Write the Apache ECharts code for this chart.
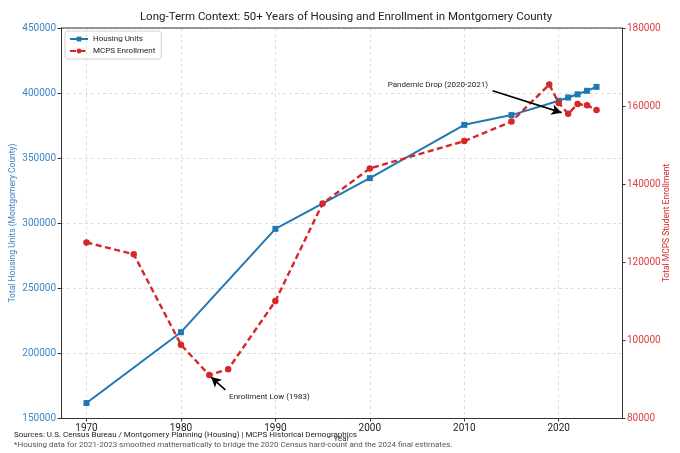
<!DOCTYPE html>
<html>
<head>
<meta charset="utf-8">
<script src="https://cdn.jsdelivr.net/npm/echarts@6/dist/echarts.min.js"></script>
<style>
  html, body { margin: 0; padding: 0; background: #fff; }
  #chart { width: 680px; height: 453px; }
</style>
</head>
<body>
<div id="chart"></div>
<script>
// data
const housingYears = [1970, 1980, 1990, 2000, 2010, 2015, 2020, 2021, 2022, 2023, 2024];
const housingUnits = [161500, 216000, 295500, 334500, 375500, 383000, 394000, 396500, 399000, 401700, 404700];
const enrollYears = [1970, 1975, 1980, 1983, 1985, 1990, 1995, 2000, 2010, 2015, 2019, 2020, 2021, 2022, 2023, 2024];
const enrollment = [125000, 122000, 98800, 91000, 92500, 110000, 135000, 144000, 151000, 156000, 165500, 160800, 158000, 160500, 160200, 159000];
const xTicks = [1970, 1980, 1990, 2000, 2010, 2020];

const BLUE = '#1f77b4';
const RED = '#d62728';
const FONT = 'Roboto';
const plain = v => String(v);

const chart = echarts.init(document.getElementById('chart'));

const option = {
    animation: false,
    textStyle: { fontFamily: FONT },
    title: {
        text: 'Long-Term Context: 50+ Years of Housing and Enrollment in Montgomery County',
        left: 341, top: 6, textAlign: 'center',
        textStyle: { fontSize: 11.5, fontWeight: 'normal', color: '#222', fontFamily: FONT }
    },
    legend: {
        left: 65, top: 31, orient: 'vertical',
        itemWidth: 18, itemHeight: 6, itemGap: 4,
        padding: [4, 6, 4, 4],
        borderColor: '#d0d0d0', borderWidth: 1, borderRadius: 3,
        textStyle: { fontSize: 8, color: '#222' },
        data: ['Housing Units', 'MCPS Enrollment']
    },
    grid: { left: 61, right: 58, top: 28, bottom: 35, outerBoundsMode: 'none', containLabel: false },
    xAxis: {
        type: 'value', min: 1967.3, max: 2026.7,
        name: 'Year', nameLocation: 'middle', nameGap: 17, nameMoveOverlap: false,
        nameTextStyle: { fontSize: 8, color: '#333' },
        axisLine: { onZero: false, lineStyle: { color: '#333', width: 1 } },
        axisTick: { show: true, length: 3.5, customValues: xTicks, lineStyle: { color: '#333' } },
        axisLabel: { customValues: xTicks, fontSize: 10, color: '#222', margin: 5, formatter: plain },
        splitLine: { show: true, customValues: xTicks, lineStyle: { color: '#dddddd', type: [3, 3] } }
    },
    yAxis: [
        {
            type: 'value', min: 150000, max: 450000, interval: 50000, position: 'left',
            name: 'Total Housing Units (Montgomery County)', nameLocation: 'middle', nameGap: 44,
            nameMoveOverlap: false,
            nameTextStyle: { fontSize: 8.5, color: '#3a83c4' },
            axisLine: { show: true, lineStyle: { color: '#333' } },
            axisTick: { show: true, length: 3.5, lineStyle: { color: '#333' } },
            axisLabel: { fontSize: 10, color: '#3d87c7', margin: 5, formatter: plain },
            splitLine: { show: true, lineStyle: { color: '#dddddd', type: [3, 3] } }
        },
        {
            type: 'value', min: 80000, max: 180000, interval: 20000, position: 'right',
            name: 'Total MCPS Student Enrollment', nameLocation: 'middle', nameGap: 40,
            nameRotate: 90, nameMoveOverlap: false,
            nameTextStyle: { fontSize: 8.5, color: RED },
            axisLine: { show: true, lineStyle: { color: '#333' } },
            axisTick: { show: true, length: 3.5, lineStyle: { color: '#333' } },
            axisLabel: { fontSize: 10, color: '#db4040', margin: 5, formatter: plain },
            splitLine: { show: false }
        }
    ],
    graphic: [
        // top spine
        { type: 'line', shape: { x1: 61, y1: 28, x2: 622, y2: 28 }, style: { stroke: '#333', lineWidth: 1 }, z: 10 },
        {
            type: 'text', left: 14, top: 431,
            style: { text: 'Sources: U.S. Census Bureau / Montgomery Planning (Housing) | MCPS Historical Demographics', fontSize: 8, fill: '#222', fontFamily: FONT }
        },
        {
            type: 'text', left: 14, top: 441,
            style: { text: '*Housing data for 2021-2023 smoothed mathematically to bridge the 2020 Census hard-count and the 2024 final estimates.', fontSize: 8, fill: '#555', fontFamily: FONT }
        }
    ],
    series: [
        {
            name: 'Housing Units', type: 'line', yAxisIndex: 0,
            data: housingYears.map((y, i) => [y, housingUnits[i]]),
            symbol: 'rect', symbolSize: 6,
            lineStyle: { color: BLUE, width: 2 },
            itemStyle: { color: BLUE },
            z: 2
        },
        {
            name: 'MCPS Enrollment', type: 'line', yAxisIndex: 1,
            data: enrollYears.map((y, i) => [y, enrollment[i]]),
            symbol: 'circle', symbolSize: 6.5,
            lineStyle: { color: RED, width: 2.4, type: [6, 3.5] },
            itemStyle: { color: RED },
            z: 3,
            markLine: {
                silent: true,
                symbol: ['none', 'arrow'], symbolSize: [8, 10],
                label: { show: false },
                lineStyle: { color: '#000', width: 1.6, type: 'solid' },
                data: [
                    [{ coord: [2013, 163900] }, { coord: [2020.3, 158300] }],
                    [{ coord: [1984.7, 87200] }, { coord: [1983.2, 90500] }]
                ]
            },
            markPoint: {
                silent: true,
                symbol: 'circle', symbolSize: 0,
                label: { show: true, fontSize: 8, color: '#222', fontFamily: FONT },
                data: [
                    { coord: [2007.2, 165400], label: { formatter: 'Pandemic Drop (2020-2021)', position: 'inside' } },
                    { coord: [1985.1, 85400], label: { formatter: 'Enrollment Low (1983)', position: 'right', distance: 0 } }
                ]
            }
        }
    ]
};

chart.setOption(option);
</script>
</body>
</html>
